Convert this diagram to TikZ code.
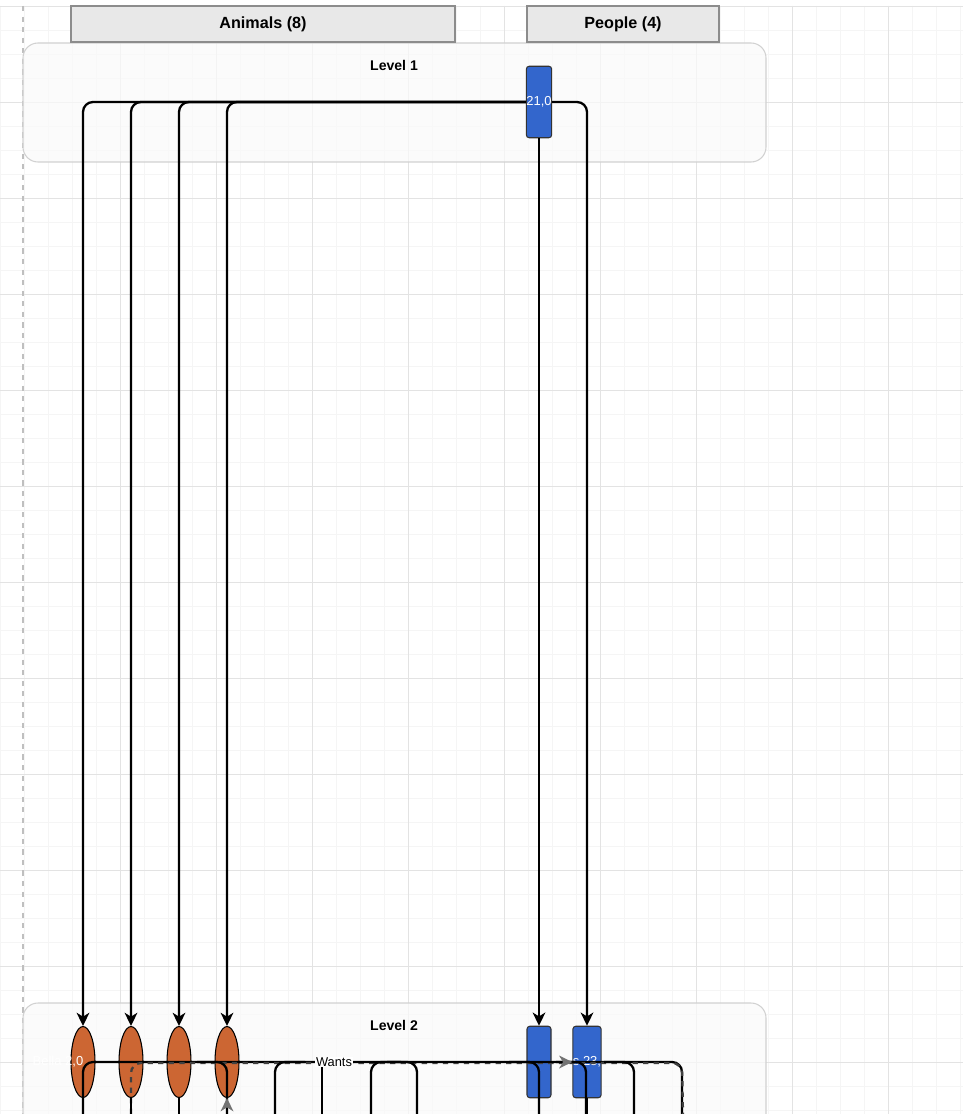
\documentclass[tikz,border=0pt]{standalone}
\usepackage{fontspec}
\setmainfont{Liberation Sans}
\usetikzlibrary{arrows.meta,shapes.geometric}

\definecolor{personblue}{HTML}{3366CC}
\definecolor{animalorange}{HTML}{CC6633}

\begin{document}
\begin{tikzpicture}[
        x=0.02cm, y=-0.02cm,
        minorgrid/.style={draw=black!4, line width=0.5pt},
        majorgrid/.style={draw=black!11, line width=0.5pt},
        header/.style={draw=black!45, fill=black!9, line width=0.8pt, minimum height=0.72cm, inner sep=0pt, font=\bfseries\fontsize{9.2}{11}\selectfont},
        level/.style={draw=black!18, fill=black!2, fill opacity=0.7, line width=0.6pt, rounded corners=0.3cm},
        leveltext/.style={font=\bfseries\fontsize{8}{10}\selectfont},
        person/.style={rectangle, draw=black!80, fill=personblue, rounded corners=1.6pt, minimum width=0.48cm, minimum height=1.43cm, inner sep=0pt, line width=0.6pt, text=white, font=\fontsize{7.4}{8}\selectfont},
        animal/.style={ellipse, draw=black, fill=animalorange, minimum width=0.48cm, minimum height=1.42cm, inner sep=0pt, line width=0.6pt},
        whitetext/.style={text=white, inner sep=0pt, font=\fontsize{7.4}{8}\selectfont},
        edge/.style={line width=1.3pt, rounded corners=0.2cm},
        flow/.style={-{Stealth[length=7.5pt, width=7.2pt, inset=2.2pt]}},
        grayflow/.style={-{Stealth[length=7.5pt, width=7.2pt, inset=2.2pt, color=black!55]}}
    ]
    \useasboundingbox (0,0) rectangle (963,1114);
    \clip (0,0) rectangle (963,1114);
    \fill[white] (0,0) rectangle (963,1114);

    % Grid
    \foreach \gx in {0,24,...,960}
        \draw[minorgrid] (\gx,6) -- (\gx,1114);
    \foreach \gy in {6,30,...,1110}
        \draw[minorgrid] (0,\gy) -- (963,\gy);
    \foreach \gx in {120,216,...,888}
        \draw[majorgrid] (\gx,6) -- (\gx,1114);
    \foreach \gy in {6,102,...,1062}
        \draw[majorgrid] (0,\gy) -- (963,\gy);
    \draw[black!25, dashed, line width=0.6pt] (23,6) -- (23,1114);

    % Levels
    \draw[level] (23,43) rectangle (766,162);
    \node[leveltext] (lvl1) at (394,65) {Level 1};
    \draw[level] (23,1003) rectangle (766,1160);
    \node[leveltext] (lvl2) at (394,1025) {Level 2};

    % Headers
    \node[header, minimum width=7.68cm] (animals) at (263,24) {Animals (8)};
    \node[header, minimum width=3.84cm] (people) at (623,24) {People (4)};

    % People
    \node[person] (p1) at (539,102) {21,0};
    \node[person] (p2) at (539,1062) {};
    \node[person] (p3) at (587,1062) {s 23,};

    % Animals
    \foreach \i/\x in {1/83,2/131,3/179,4/227}
        \node[animal] (a\i) at (\x,1062) {};
    \node[whitetext] (a1txt) at (58,1062) {Bella 2,0};

    % Level 1 to Level 2
    \foreach \i in {1,...,4}
        \draw[edge, flow] (p1.west) -| (a\i.north);
    \draw[edge, flow] (p1.east) -| (p3.north);
    \draw[edge, flow] (p1.south) -- (p2.north);

    % Level 2 row
    \draw[edge] (83,1114) -- (83,1062) -- (682,1062) -- (682,1114);
    \draw[edge, dashed, black!75] (131,1114) -- (131,1063) -- (682,1063) -- (683,1114);
    \foreach \x in {227,417,539,586,634}
        \draw[edge] ({\x-30},1062) -- (\x,1062) -- (\x,1114);
    \foreach \x in {275,371}
        \draw[edge] ({\x+30},1062) -- (\x,1062) -- (\x,1114);
    \draw[edge] (322,1062) -- (322,1114);
    \foreach \n in {a2,a3,p2,p3}
        \draw[edge] (\n.south) -- ++(0,20);

    % Incoming
    \coordinate (wantsfrom) at (322,1062);
    \draw[edge, grayflow] (wantsfrom) -- (p3.west);
    \node[fill=white, inner sep=0.5pt, font=\fontsize{7.3}{8}\selectfont] (wants) at (334,1062) {Wants};
    \coordinate (a4from) at (227,1114);
    \draw[edge, grayflow] (a4from) -- (a4.south);

\end{tikzpicture}
\end{document}
